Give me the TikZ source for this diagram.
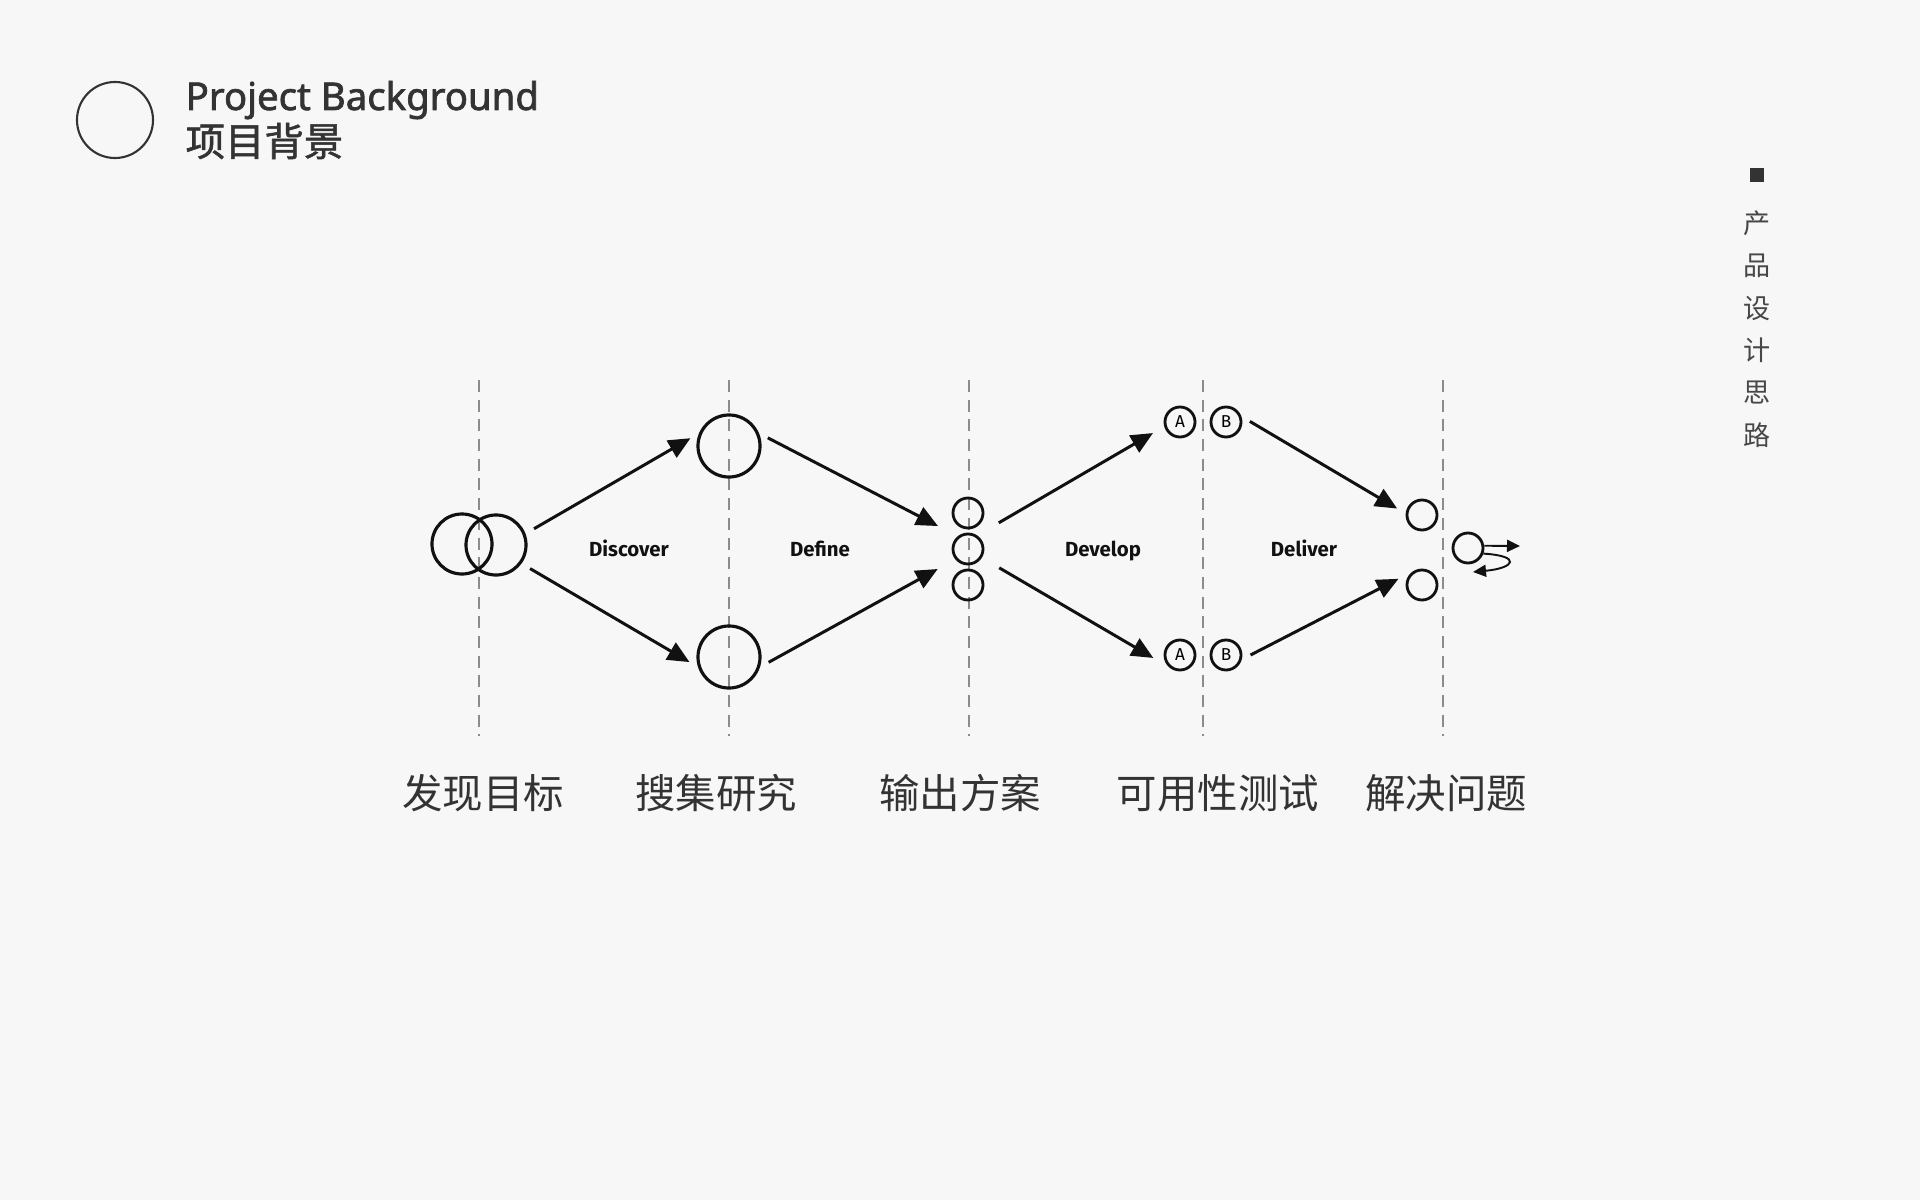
\documentclass[tikz,border=0pt]{standalone}
\usepackage{fontspec}
\setmainfont{Noto Sans}
\newfontfamily\cjk{Noto Sans CJK SC}
\newfontfamily\cjkhead{Noto Sans CJK SC}[FakeBold=1.4]
\newfontfamily\headfont{Noto Sans}[FakeBold=1.8]
\newfontfamily\phasefont{Fira Sans}
\usepackage{tikz}
\usepackage{xcolor}
\usetikzlibrary{positioning, arrows.meta}
\definecolor{paper}{HTML}{F7F7F7}
\definecolor{ink}{HTML}{111111}
\definecolor{txt}{HTML}{333333}
\definecolor{guide}{HTML}{8C8C8C}

\begin{document}
\begin{tikzpicture}[x=0.01cm, y=-0.01cm,
  ring/.style={circle, draw=ink, line width=0.9pt, minimum size=0.62cm, inner sep=0pt},
  dot/.style={circle, draw=ink, line width=0.8pt, minimum size=0.30cm, inner sep=0pt,
              font=\phasefont\fontsize{4.9}{5}\selectfont},
  flow/.style={-{Triangle[length=6.2pt, width=5.5pt]}, ink, line width=0.85pt,
               shorten <=2.8pt, shorten >=2.8pt},
  tiny flow/.style={-{Triangle[length=3.7pt, width=3.4pt]}, ink, line width=0.55pt},
  guide line/.style={guide, line width=0.55pt, dash pattern=on 3.4pt off 2.2pt},
  phase/.style={font=\phasefont\bfseries\fontsize{5.8}{7}\selectfont, ink, anchor=base},
  caption/.style={font=\cjk\fontsize{11.5}{13}\selectfont, txt},
  side/.style={font=\cjk\fontsize{7.7}{9}\selectfont, txt!90}]

  % Page
  \fill[paper] (0,0) rectangle (1920,1200);

  % Header
  \node[circle, draw=txt, line width=0.6pt, minimum size=0.76cm, inner sep=0pt] (hd) at (115,120) {};
  \node[anchor=base west, inner sep=0pt, txt, font=\headfont\fontsize{10.9}{12}\selectfont] (ttlEn) at (185,110) {Project Background};
  \node[anchor=west, inner sep=0pt, txt, font=\cjkhead\fontsize{11.2}{13}\selectfont] (ttlCn) at (185,141) {项目背景};

  % Side mark
  \node[fill=txt, minimum size=0.14cm, inner sep=0pt] (mk) at (1757,175) {};
  \foreach \c [count=\i] in {产,品,设,计,思,路}
    \node[side] (v\i) at (1757,181+42.4*\i) {\c};

  % Guides
  \foreach \x in {479, 729, 969, 1203, 1443}
    \draw[guide line] (\x,380) -- (\x,736);

  % Circles
  \node[ring, minimum size=0.60cm] (dL) at (462,544) {};
  \node[ring, minimum size=0.60cm] (dR) at (496,545) {};
  \node[ring] (defU) at (729,446) {};
  \node[ring] (defD) at (729,657) {};
  \foreach \n/\y in {o1/513, o2/549, o3/585}
    \node[dot] (\n) at (968,\y) {};
  \node[dot] (aU) at (1180,422) {A};
  \node[dot] (bU) at (1226,422) {B};
  \node[dot] (aD) at (1180,655) {A};
  \node[dot] (bD) at (1226,655) {B};
  \node[dot] (rU) at (1422,515) {};
  \node[dot] (rD) at (1422,585) {};
  \node[dot] (fin) at (1468,548) {};

  % Phases
  \node[phase] (ph1) at (629,556) {Discover};
  \node[phase] (ph2) at (820,556) {Define};
  \node[phase] (ph3) at (1103,556) {Develop};
  \node[phase] (ph4) at (1304,556) {Deliver};

  % Arrows
  \draw[flow] (dR.21) -- (defU.157);
  \draw[flow] (dR.-36) -- (defD.198);
  \draw[flow, shorten >=6.3pt] (defU.23) -- (o2.129);
  \draw[flow, shorten >=5.7pt] (defD.-18) -- (o2.-141);
  \draw[flow, shorten <=7.1pt, shorten >=3.7pt] (o2.56) -- (aU.196);
  \draw[flow, shorten <=5.7pt, shorten >=5.1pt] (o2.-32) -- (aD.-133);
  \draw[flow] (bU.20) -- (rU.175);
  \draw[flow, shorten >=4.5pt] (bD.-16) -- (rD.125);

  % Loop
  \coordinate (fwd) at (1520,546);
  \coordinate (back) at (1473,572);
  \draw[tiny flow] (fin.8) -- (fwd);
  \draw[tiny flow] (fin.-20) .. controls (1522,556) and (1515,568) .. (back);

  % Captions
  \foreach \x/\t [count=\i] in {483/发现目标, 716/搜集研究, 960/输出方案, 1218/可用性测试, 1446/解决问题}
    \node[caption] (lbl\i) at (\x,793) {\t};
\end{tikzpicture}
\end{document}
